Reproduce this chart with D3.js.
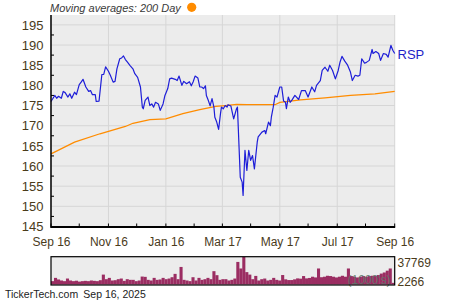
<!DOCTYPE html>
<html>
<head>
<meta charset="utf-8">
<script src="https://cdn.jsdelivr.net/npm/d3@7"></script>
<style>
    html, body { margin: 0; padding: 0; background: #fff; }
    svg { display: block; font-family: Arial, "Liberation Sans", sans-serif; }
</style>
</head>
<body>
<svg width="450" height="300"></svg>
<script>
    // RSP daily closes
    var priceDates = [
        '2024-09-16','2024-09-20','2024-09-22','2024-09-24','2024-09-27','2024-09-29','2024-10-01','2024-10-04',
        '2024-10-06','2024-10-08','2024-10-11','2024-10-13','2024-10-16','2024-10-18','2024-10-20','2024-10-23',
        '2024-10-26','2024-10-28','2024-10-30','2024-11-02','2024-11-03','2024-11-06','2024-11-09','2024-11-11',
        '2024-11-13','2024-11-16','2024-11-18','2024-11-21','2024-11-23','2024-11-25','2024-11-28','2024-11-30',
        '2024-12-02','2024-12-04','2024-12-06','2024-12-09','2024-12-12','2024-12-14','2024-12-17','2024-12-20',
        '2024-12-22','2024-12-23','2024-12-25','2024-12-28','2024-12-30','2025-01-01','2025-01-03','2025-01-05',
        '2025-01-08','2025-01-10','2025-01-13','2025-01-15','2025-01-18','2025-01-20','2025-01-22','2025-01-26',
        '2025-01-28','2025-01-30','2025-02-02','2025-02-04','2025-02-07','2025-02-10','2025-02-12','2025-02-14',
        '2025-02-16','2025-02-19','2025-02-21','2025-02-23','2025-02-25','2025-02-27','2025-02-28','2025-03-02',
        '2025-03-04','2025-03-06','2025-03-08','2025-03-09','2025-03-11','2025-03-13','2025-03-15','2025-03-16',
        '2025-03-18','2025-03-20','2025-03-22','2025-03-23','2025-03-26','2025-03-29','2025-04-01','2025-04-02',
        '2025-04-05','2025-04-07','2025-04-08','2025-04-10','2025-04-12','2025-04-14','2025-04-16','2025-04-18',
        '2025-04-20','2025-04-23','2025-04-24','2025-04-28','2025-05-01','2025-05-02','2025-05-05','2025-05-07',
        '2025-05-08','2025-05-10','2025-05-12','2025-05-14','2025-05-17','2025-05-19','2025-05-21','2025-05-23',
        '2025-05-24','2025-05-26','2025-05-28','2025-05-30','2025-06-02','2025-06-06','2025-06-09','2025-06-13',
        '2025-06-16','2025-06-20','2025-06-23','2025-06-25','2025-06-29','2025-07-01','2025-07-04','2025-07-07',
        '2025-07-09','2025-07-12','2025-07-15','2025-07-18','2025-07-20','2025-07-22','2025-07-25','2025-07-28',
        '2025-07-31','2025-08-02','2025-08-05','2025-08-08','2025-08-10','2025-08-12','2025-08-15','2025-08-17',
        '2025-08-20','2025-08-23','2025-08-24','2025-08-27','2025-08-30','2025-09-01','2025-09-04','2025-09-07',
        '2025-09-09','2025-09-12','2025-09-14','2025-09-16'
    ];
    var priceValues = [
        176.0,177.5,176.8,177.3,176.8,178.5,178.2,177.1,
        177.9,176.8,178.3,177.7,180.2,180.8,181.5,179.6,
        178.5,178.7,177.7,177.7,176.0,176.1,182.7,182.7,
        184.6,183.5,182.5,180.8,181.0,184.1,186.6,186.8,
        187.3,186.4,185.8,184.9,184.1,182.9,182.0,179.6,
        174.6,174.2,176.3,177.1,175.0,175.4,174.6,175.8,
        175.4,173.8,175.4,177.5,179.2,181.6,181.8,181.5,
        181.2,182.3,180.0,181.0,180.4,180.9,179.9,180.9,
        182.3,181.8,179.6,179.6,179.2,179.9,177.5,176.3,
        174.9,176.7,174.6,172.1,170.9,169.1,173.0,174.6,
        174.2,175.0,174.6,175.2,174.9,171.7,174.2,174.6,
        157.2,156.0,152.7,163.9,158.9,163.9,161.4,162.6,
        159.3,165.9,167.2,168.4,168.8,168.0,170.9,170.0,
        172.1,174.6,177.5,177.1,179.6,179.6,176.1,175.8,
        174.2,177.1,175.8,176.4,177.5,176.5,178.7,178.7,
        177.1,179.6,178.4,180.0,181.2,183.7,184.5,183.5,
        185.0,183.7,181.6,183.7,185.8,187.2,186.0,185.0,
        183.3,181.2,182.5,182.3,182.5,186.6,185.5,185.7,
        186.2,188.9,187.9,188.4,187.9,186.2,187.9,187.7,
        187.0,189.9,188.7,187.9
    ];

    // 200 day moving average
    var maDates = [
        '2024-09-16','2024-10-11','2024-11-07','2024-12-04','2024-12-12','2024-12-30','2025-01-16','2025-02-03',
        '2025-02-21','2025-03-10','2025-03-20','2025-04-01','2025-04-12','2025-05-12','2025-05-17','2025-06-08',
        '2025-07-04','2025-07-31','2025-08-26','2025-09-16'
    ];
    var maValues = [
        163.0,165.9,168.0,169.8,170.6,171.5,171.7,173.0,
        174.0,174.8,175.0,175.3,175.2,175.2,175.8,176.4,
        176.9,177.5,177.9,178.5
    ];

    // volume in shares, oldest first
    var volumes = [
        4600,9100,6900,5500,4600,8200,5500,4600,5200,4000,4600,5000,4600,5500,5000,4600,
        5900,13600,7300,9100,5500,5900,7300,8200,5000,7300,6400,6400,4600,5500,10900,10500,
        6400,5500,9100,6400,6900,9100,7300,8200,10000,14600,7300,24100,6400,5500,4600,10000,
        5500,9100,6400,7300,9100,7300,18300,12800,6400,7300,7300,5500,6400,8200,31000,22000,
        37769,17000,13600,7300,11800,5500,7300,8200,5500,6400,9100,6400,5500,13000,7100,6100,
        6100,7100,8400,8000,11600,8400,9000,10700,9700,22000,10000,10700,12000,11600,10700,9700,
        10700,12000,10700,22000,11600,10700,9700,10700,11600,10700,11600,12000,11600,13000,15000,16500,
        19000,22000,2266
    ];

    var xTickDates = ['2024-09-16','2024-11-16','2025-01-16','2025-03-17','2025-05-17','2025-07-17','2025-09-16'];
    var xMinorDates = ['2024-10-16','2024-12-16','2025-02-15','2025-04-16','2025-06-16','2025-08-16'];
    var yTicks = [145,150,155,160,165,170,175,180,185,190,195];
    var yMinor = [147.5,152.5,157.5,162.5,167.5,172.5,177.5,182.5,187.5,192.5];

    var parse = d3.timeParse('%Y-%m-%d');
    var plotLeft = 51, plotRight = 394.7, plotTop = 15, plotBottom = 226.5;
    var textColor = '#4a3b1b';

    var svg = d3.select('svg');

    var x = d3.scaleTime()
        .domain([parse('2024-09-16'), parse('2025-09-16')])
        .range([plotLeft, plotRight]);
    var y = d3.scaleLinear()
        .domain([145, 197.45])
        .range([plotBottom, plotTop]);

    // plot background
    svg.append('rect')
        .attr('x', plotLeft).attr('y', plotTop)
        .attr('width', plotRight - plotLeft).attr('height', plotBottom - plotTop)
        .attr('fill', '#ececec');

    // grid
    var grid = svg.append('g').attr('stroke', '#d6d6d6').attr('stroke-width', 1);
    grid.selectAll('.h').data(yTicks).enter().append('line')
        .attr('x1', plotLeft).attr('x2', plotRight)
        .attr('y1', function (d) { return y(d); })
        .attr('y2', function (d) { return y(d); });
    grid.selectAll('.v').data(xTickDates).enter().append('line')
        .attr('y1', plotTop).attr('y2', plotBottom)
        .attr('x1', function (d) { return x(parse(d)); })
        .attr('x2', function (d) { return x(parse(d)); });

    // moving average
    var ma = maDates.map(function (d, i) { return [parse(d), maValues[i]]; });
    var line = d3.line()
        .x(function (d) { return x(d[0]); })
        .y(function (d) { return y(d[1]); });

    svg.append('path')
        .datum(ma)
        .attr('d', line)
        .attr('fill', 'none')
        .attr('stroke', '#ff8c00')
        .attr('stroke-width', 1.3);

    // price
    var price = priceDates.map(function (d, i) { return [parse(d), priceValues[i]]; });
    svg.append('path')
        .datum(price)
        .attr('d', line)
        .attr('fill', 'none')
        .attr('stroke', '#1e1ed8')
        .attr('stroke-width', 1.2)
        .attr('stroke-linejoin', 'round');

    // axes
    var yAxis = svg.append('g')
        .attr('transform', 'translate(' + plotLeft + ',0)')
        .call(d3.axisLeft(y).tickValues(yTicks).tickSize(0).tickPadding(7.5));
    yAxis.select('.domain').remove();
    yAxis.selectAll('text').attr('fill', textColor).style('font-size', '13px');

    var xAxis = svg.append('g')
        .attr('transform', 'translate(0,' + plotBottom + ')')
        .call(d3.axisBottom(x)
            .tickValues(xTickDates.map(parse))
            .tickFormat(d3.timeFormat('%b %-d'))
            .tickSize(0).tickPadding(10.5));
    xAxis.select('.domain').remove();
    xAxis.selectAll('text').attr('fill', textColor).style('font-size', '12px');

    var ticks = svg.append('g').attr('stroke', '#000').attr('stroke-width', 1);
    ticks.selectAll('.ym').data(yMinor).enter().append('line')
        .attr('x1', plotLeft).attr('x2', plotLeft + 3)
        .attr('y1', function (d) { return y(d); })
        .attr('y2', function (d) { return y(d); });
    ticks.selectAll('.xm').data(xMinorDates.concat(xTickDates)).enter().append('line')
        .attr('y1', plotBottom).attr('y2', plotBottom - 3)
        .attr('x1', function (d) { return x(parse(d)); })
        .attr('x2', function (d) { return x(parse(d)); });

    svg.append('line')
        .attr('x1', plotLeft).attr('x2', plotLeft).attr('y1', plotTop).attr('y2', plotBottom)
        .attr('stroke', '#000').attr('stroke-width', 1.5);
    svg.append('line')
        .attr('x1', plotLeft - 0.75).attr('x2', plotRight + 0.5)
        .attr('y1', plotBottom + 0.5).attr('y2', plotBottom + 0.5)
        .attr('stroke', '#000').attr('stroke-width', 1.8);

    // legend + series label
    svg.append('text')
        .attr('x', 50).attr('y', 11.7)
        .attr('fill', '#3a3a3a')
        .style('font-size', '11px').style('font-style', 'italic')
        .text('Moving averages: 200 Day');
    svg.append('circle')
        .attr('cx', 191.7).attr('cy', 7.3).attr('r', 4.6)
        .attr('fill', '#ff8c00');
    svg.append('text')
        .attr('x', 397.5).attr('y', y(priceValues[priceValues.length - 1]) + 5)
        .attr('fill', '#1e1ec8')
        .style('font-size', '13px')
        .text('RSP');

    // volume panel
    var vTop = 256.7, vBottom = 285;
    var vx = d3.scaleBand()
        .domain(d3.range(volumes.length))
        .range([plotLeft, plotRight])
        .padding(0);
    var vy = d3.scaleLinear()
        .domain([0, d3.max(volumes)])
        .range([vBottom - 0.5, vTop + 0.3]);

    svg.append('rect')
        .attr('x', plotLeft).attr('y', vTop)
        .attr('width', plotRight - plotLeft).attr('height', vBottom - vTop)
        .attr('fill', '#ececec');

    svg.append('g').selectAll('rect').data(volumes).enter().append('rect')
        .attr('x', function (d, i) { return vx(i); })
        .attr('width', vx.bandwidth() + 0.1)
        .attr('y', function (d) { return vy(d); })
        .attr('height', function (d) { return vy(0) - vy(d); })
        .attr('fill', '#9b2d62');

    svg.append('text')
        .attr('x', 390.5).attr('y', 284)
        .attr('text-anchor', 'end')
        .attr('fill', '#5a7a6a')
        .attr('fill-opacity', 0.85)
        .style('font-size', '12px')
        .text("(1000's)");

    svg.append('rect')
        .attr('x', plotLeft).attr('y', vTop)
        .attr('width', plotRight - plotLeft).attr('height', vBottom - vTop)
        .attr('fill', 'none')
        .attr('stroke', '#000').attr('stroke-width', 1.2);

    svg.append('text')
        .attr('x', 397.5).attr('y', 266.5)
        .attr('fill', textColor).style('font-size', '12px')
        .text(d3.max(volumes));
    svg.append('text')
        .attr('x', 397.5).attr('y', 285.5)
        .attr('fill', textColor).style('font-size', '12px')
        .text(volumes[volumes.length - 1]);

    // footer
    svg.append('text')
        .attr('x', 5).attr('y', 297.5)
        .attr('fill', '#222').style('font-size', '10.5px')
        .text('TickerTech.com');
    svg.append('text')
        .attr('x', 83.3).attr('y', 297.5)
        .attr('fill', '#222').style('font-size', '10.5px')
        .text('Sep 16, 2025');
</script>
</body>
</html>
